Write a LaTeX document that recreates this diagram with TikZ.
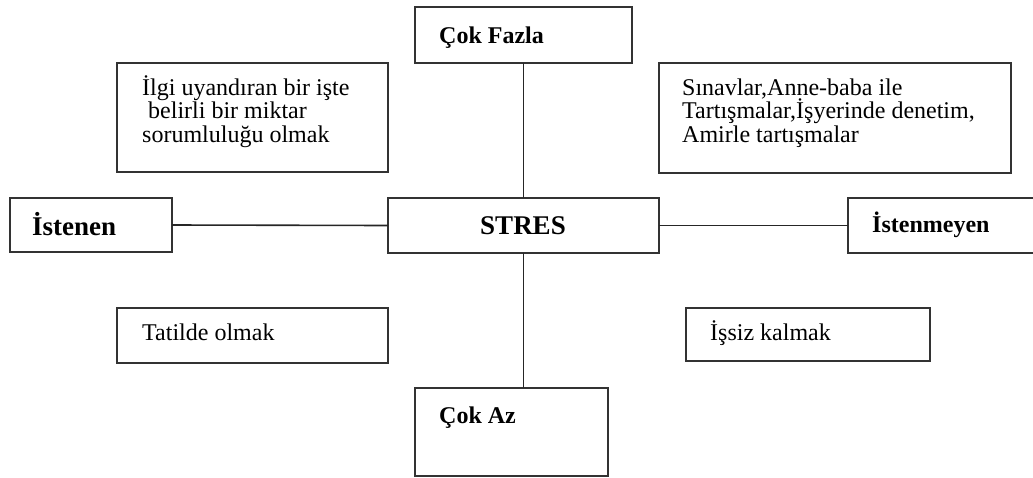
\documentclass[tikz,border=0pt]{standalone}
\usepackage{fontspec}
\setmainfont{Liberation Serif}
\begin{document}
\begin{tikzpicture}[x=1pt,y=-1pt,
  box/.style={draw=black!80, line width=2pt, rectangle, inner sep=0pt, outer sep=0pt},
  link/.style={draw=black!85, line width=1.6pt},
  txt/.style={anchor=base west, inner sep=0pt, font=\fontsize{24}{24}\selectfont},
  head/.style={anchor=base west, inner sep=0pt, font=\fontsize{24}{24}\selectfont\bfseries},
  bighead/.style={inner sep=0pt, font=\fontsize{27}{27}\selectfont\bfseries}]
\useasboundingbox (0,0) rectangle (1033,477);
\clip (0,0) rectangle (1033,477);

% boxes
\node[box, minimum width=217pt, minimum height=56pt] (fazla) at (523.5,35) {};
\node[box, minimum width=271pt, minimum height=109pt] (ilgi) at (252.5,117.5) {};
\node[box, minimum width=352pt, minimum height=110pt] (sinav) at (835,118) {};
\node[box, minimum width=162pt, minimum height=54pt] (istenen) at (91,225) {};
\node[box, minimum width=271pt, minimum height=55pt] (stres) at (523.5,225.5) {};
\node[box, minimum width=192pt, minimum height=55pt] (istenmeyen) at (944,225.5) {};
\node[box, minimum width=271pt, minimum height=55pt] (tatil) at (252.5,335.5) {};
\node[box, minimum width=244pt, minimum height=53pt] (issiz) at (808,334.5) {};
\node[box, minimum width=193pt, minimum height=88pt] (az) at (511.5,432) {};

% texts
\node[head] (tFazla) at (439,43) {Çok Fazla};
\node[txt] (tIlgiA) at (142,95) {İlgi uyandıran bir işte};
\node[txt] (tIlgiB) at (148,118) {belirli bir miktar};
\node[txt] (tIlgiC) at (142,142) {sorumluluğu olmak};
\node[txt] (tSinavA) at (682,95) {Sınavlar,Anne-baba ile};
\node[txt] (tSinavB) at (682,118) {Tartışmalar,İşyerinde denetim,};
\node[txt] (tSinavC) at (682,142) {Amirle tartışmalar};
\node[bighead, anchor=base west] (tIstenen) at (32,235) {İstenen};
\node[bighead, anchor=base] (tStres) at (523,234) {STRES};
\node[head] (tIstenmeyen) at (872,232) {İstenmeyen};
\node[txt] (tTatil) at (142,340) {Tatilde olmak};
\node[txt] (tIssiz) at (710,340) {İşsiz kalmak};
\node[head] (tAz) at (439,423) {Çok Az};

% connectors
\draw[link] (fazla.south) -- (stres.north);
\draw[link] (stres.south) -- (stres.south |- az.north);
\draw[link] (istenen.east) -- (stres.west);
\draw[link] (stres.east) -- (istenmeyen.west);
\end{tikzpicture}
\end{document}
